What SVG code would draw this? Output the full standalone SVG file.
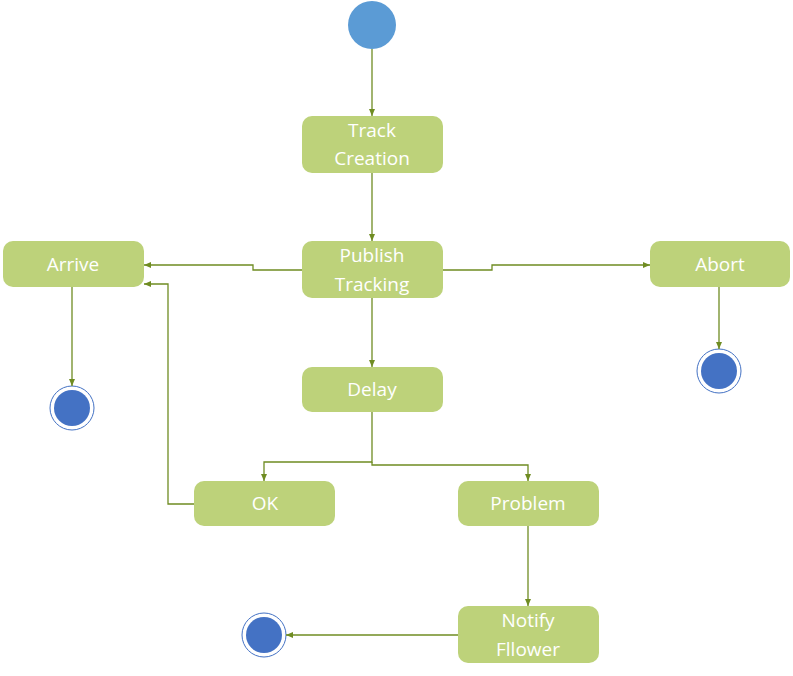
<svg xmlns="http://www.w3.org/2000/svg" width="793" height="676" viewBox="0 0 793 676">
<style>
.n rect{fill:#BDD27A;}
.n text{fill:#fff;font-family:"Open Sans","Liberation Sans",sans-serif;font-size:19px;text-anchor:middle;}
.c path{fill:none;stroke:#6F8C22;stroke-width:1.3;marker-end:url(#a);}
.e .o{fill:#fff;stroke:#4472C4;stroke-width:1;}
.e .i{fill:#4472C4;}
</style>
<defs><marker id="a" markerWidth="8" markerHeight="8" refX="7" refY="4" orient="auto" markerUnits="userSpaceOnUse"><path d="M0,1 L7,4 L0,7 z" fill="#6F8C22"/></marker></defs>
<rect width="793" height="676" fill="#fff"/>
<g id="start"><circle cx="372" cy="25" r="24" fill="#5B9BD5"/></g>
<g id="track" class="n"><rect x="302" y="116" width="141" height="57" rx="10"/><text x="372" y="137">Track</text><text x="372" y="165">Creation</text></g>
<g id="publish" class="n"><rect x="302" y="241" width="141" height="57" rx="10"/><text x="372" y="262">Publish</text><text x="372" y="291">Tracking</text></g>
<g id="arrive" class="n"><rect x="3" y="241" width="141" height="46" rx="10"/><text x="73" y="271">Arrive</text></g>
<g id="abort" class="n"><rect x="650" y="241" width="140" height="46" rx="10"/><text x="720" y="271">Abort</text></g>
<g id="delay" class="n"><rect x="302" y="367" width="141" height="45" rx="10"/><text x="372" y="396">Delay</text></g>
<g id="ok" class="n"><rect x="194" y="481" width="141" height="45" rx="10"/><text x="265" y="510">OK</text></g>
<g id="problem" class="n"><rect x="458" y="481" width="141" height="45" rx="10"/><text x="528" y="510">Problem</text></g>
<g id="notify" class="n"><rect x="458" y="606" width="141" height="57" rx="10"/><text x="528" y="627">Notify</text><text x="528" y="656">Fllower</text></g>
<g id="end1" class="e"><circle class="o" cx="72" cy="408" r="22"/><circle class="i" cx="72" cy="408" r="18"/></g>
<g id="end2" class="e"><circle class="o" cx="719" cy="371" r="22"/><circle class="i" cx="719" cy="371" r="18"/></g>
<g id="end3" class="e"><circle class="o" cx="264" cy="635" r="22"/><circle class="i" cx="264" cy="635" r="18"/></g>
<g id="connectors" class="c">
<path d="M372,49 V116"/>
<path d="M372,173 V241"/>
<path d="M302,270 H253 V265 H144"/>
<path d="M443,270 H492 V265 H650"/>
<path d="M72,287 V386"/>
<path d="M719,287 V349"/>
<path d="M372,298 V367"/>
<path d="M372,412 V462 H264 V481"/>
<path d="M372,462 V465 H528 V481"/>
<path d="M194,504 H168 V284 H144"/>
<path d="M528,526 V606"/>
<path d="M458,635 H286"/>
</g>
</svg>
